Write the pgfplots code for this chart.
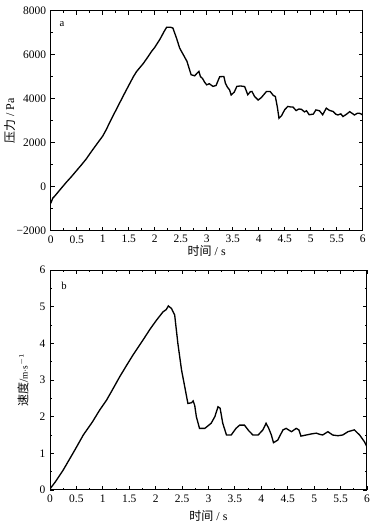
\documentclass[border=0pt]{standalone}
\usepackage{pgfplots}
\pgfplotsset{compat=1.18}
\usepackage{fontspec}
\setmainfont{Liberation Serif}
\newfontfamily\cjk{Noto Sans CJK SC}
\begin{document}
\begin{tikzpicture}
\useasboundingbox (0pt,0pt) rectangle (282.75pt,393pt);
\pgfplotsset{
  myax/.style={
    scale only axis,
    anchor=south west,
    xmin=0, xmax=6,
    xtick={0,0.5,...,6},
    xticklabels={0,0.5,1,1.5,2,2.5,3,3.5,4,4.5,5,5.5,6},
    minor x tick num=1,
    minor y tick num=1,
    major tick length=3pt,
    minor tick length=1.8pt,
    tick align=inside,
    axis line style={line width=0.75pt},
    every tick/.style={black, line width=0.65pt},
    tick label style={font=\fontsize{8.6}{10}\selectfont},
    /pgf/number format/assume math mode=true,
    label style={font=\fontsize{9}{10}\selectfont},
  }
}
\begin{axis}[myax,
  at={(38.025pt,219.975pt)}, width=234pt, height=165pt,
  ymin=-2000, ymax=8000,
  ytick={-2000,0,2000,4000,6000,8000},
  yticklabels={−2000,0,2000,4000,6000,8000},
  xlabel={{\cjk 时间} / s},
  ylabel={{\cjk 压力} / Pa},
  xlabel style={at={(axis description cs:0.5,-0.092)}, anchor=center},
  ylabel style={at={(axis description cs:-0.132,0.5)}, anchor=center},
]
\node[font=\fontsize{8}{9}\selectfont] at (axis description cs:0.036,0.94) {a};
\addplot[black, line width=1pt] coordinates {
(0,-760) (0.04,-520) (0.08,-420) (0.2,-80) (0.3,200) (0.4,460) (0.5,740) (0.59,990)
(0.68,1250) (0.78,1590) (0.9,1980) (1.0,2300) (1.07,2600) (1.14,2950) (1.27,3550)
(1.4,4150) (1.5,4600) (1.59,5000) (1.65,5230) (1.78,5600) (1.84,5800) (1.94,6150)
(2.0,6330) (2.1,6700) (2.18,7050) (2.23,7250)
(2.3,7250) (2.35,7210) (2.42,6750) (2.48,6300) (2.55,6000) (2.62,5700) (2.70,5090)
(2.77,5040) (2.81,5150) (2.85,5240) (2.88,5000) (2.92,4920) (2.96,4750) (3.0,4630)
(3.05,4680) (3.12,4560) (3.18,4600) (3.25,5000) (3.33,5010) (3.36,4700) (3.40,4520)
(3.44,4400) (3.47,4170) (3.53,4300) (3.58,4560) (3.65,4580) (3.73,4550) (3.79,4180)
(3.84,4320) (3.87,4330) (3.92,4100) (3.99,3940) (4.05,4050) (4.15,4330) (4.22,4330)
(4.28,4150) (4.32,4100) (4.36,3600) (4.39,3110) (4.44,3230) (4.5,3500) (4.56,3650)
(4.62,3620) (4.66,3620) (4.72,3460) (4.77,3530) (4.82,3520) (4.88,3400) (4.92,3450)
(4.97,3270) (5.05,3300) (5.1,3490) (5.17,3450) (5.23,3270) (5.30,3570) (5.36,3470)
(5.43,3420) (5.48,3300) (5.52,3260) (5.58,3310) (5.62,3190) (5.68,3280) (5.75,3410)
(5.8,3330) (5.84,3260) (5.9,3340) (5.95,3330) (6.0,3260)
};
\end{axis}
\begin{axis}[myax,
  at={(37.5pt,25.5pt)}, width=237.75pt, height=165pt,
  ymin=0, ymax=6,
  ytick={0,1,...,6},
  xlabel={{\cjk 时间} / s},
  ylabel={{\cjk 速度}/{\fontsize{7}{8}\selectfont m$\cdot$s$^{-1}$}},
  xlabel style={at={(axis description cs:0.5,-0.12)}, anchor=center},
  ylabel style={at={(axis description cs:-0.085,0.5)}, anchor=center},
]
\node[font=\fontsize{8}{9}\selectfont] at (axis description cs:0.044,0.927) {b};
\addplot[black, line width=1pt] coordinates {
(0,0.03) (0.1,0.22) (0.25,0.545) (0.47,1.09) (0.63,1.5) (0.8,1.85) (0.94,2.18)
(1.07,2.45) (1.2,2.78) (1.32,3.09) (1.45,3.4) (1.57,3.68) (1.76,4.09) (1.9,4.4)
(2.02,4.64) (2.14,4.86) (2.2,4.92) (2.24,5.02) (2.30,4.95) (2.36,4.77) (2.42,4.0)
(2.49,3.27) (2.55,2.82) (2.61,2.36) (2.68,2.38) (2.71,2.43) (2.74,2.3) (2.77,2.0)
(2.83,1.68) (2.93,1.68) (3.05,1.82) (3.12,2.0) (3.18,2.27) (3.22,2.23) (3.27,1.82)
(3.34,1.5) (3.43,1.5) (3.52,1.68) (3.59,1.77) (3.68,1.77) (3.76,1.62) (3.84,1.5)
(3.94,1.5) (4.03,1.64) (4.09,1.82) (4.14,1.68) (4.19,1.5) (4.23,1.29) (4.31,1.36)
(4.41,1.64) (4.47,1.68) (4.57,1.59) (4.66,1.68) (4.71,1.64) (4.75,1.47) (4.85,1.5)
(4.95,1.53) (5.04,1.55) (5.1,1.52) (5.16,1.5) (5.26,1.59) (5.35,1.5) (5.45,1.48)
(5.54,1.5) (5.64,1.59) (5.76,1.64) (5.86,1.5) (5.95,1.32) (6.0,1.18)
};
\end{axis}
\end{tikzpicture}
\end{document}
